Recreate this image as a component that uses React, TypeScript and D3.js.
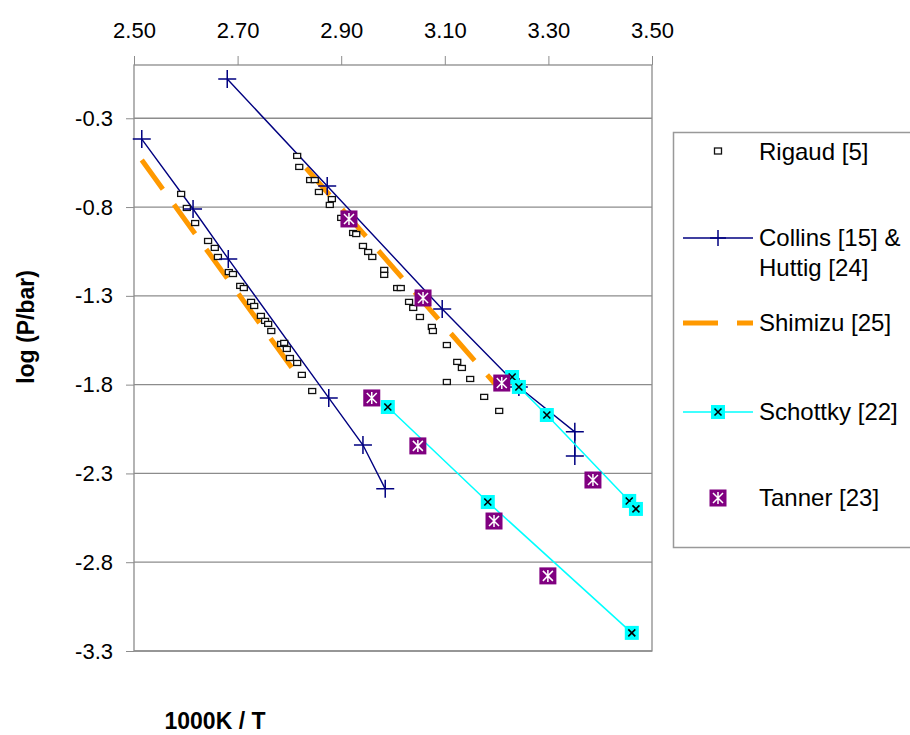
import * as d3 from 'd3';
import { useEffect, useRef } from 'react';

// x = 1000K / T , y = log (P/bar)
const rigaudLow: [number, number][] = [
  [2.591, -0.726], [2.602, -0.805], [2.618, -0.890], [2.643, -0.991], [2.656, -1.030],
  [2.662, -1.081], [2.683, -1.166], [2.691, -1.177], [2.705, -1.244], [2.712, -1.256],
  [2.726, -1.334], [2.732, -1.357], [2.745, -1.413], [2.753, -1.441], [2.759, -1.458],
  [2.765, -1.498], [2.784, -1.571], [2.790, -1.565], [2.795, -1.599], [2.801, -1.650],
  [2.815, -1.678], [2.824, -1.745], [2.844, -1.836],
];
const rigaudHigh: [number, number][] = [
  [2.815, -0.512], [2.819, -0.574], [2.840, -0.648], [2.849, -0.648], [2.857, -0.715],
  [2.882, -0.755], [2.878, -0.788], [2.900, -0.861], [2.923, -0.946], [2.929, -0.952],
  [2.942, -1.019], [2.952, -1.053], [2.960, -1.081], [2.983, -1.154], [2.983, -1.182],
  [3.008, -1.256], [3.015, -1.256], [3.031, -1.334], [3.039, -1.368], [3.052, -1.419],
  [3.075, -1.475], [3.077, -1.498], [3.104, -1.577], [3.124, -1.672], [3.133, -1.706],
  [3.104, -1.785], [3.149, -1.768], [3.176, -1.869], [3.205, -1.948],
];
const collinsLow: [number, number][] = [
  [2.515, -0.417], [2.614, -0.811], [2.682, -1.092], [2.876, -1.875], [2.942, -2.140], [2.985, -2.387],
];
const huttigHigh: [number, number][] = [
  [2.680, -0.079], [2.873, -0.681], [3.095, -1.374], [3.243, -1.813], [3.351, -2.066], [3.351, -2.202],
];
const shimizuLow: [number, number][] = [[2.515, -0.535], [2.826, -1.791]];
const shimizuHigh: [number, number][] = [[2.832, -0.580], [3.197, -1.796]];
const schottkyLow: [number, number][] = [[2.990, -1.926], [3.183, -2.461], [3.461, -3.198]];
const schottkyHigh: [number, number][] = [
  [3.230, -1.757], [3.243, -1.813], [3.297, -1.971], [3.456, -2.455], [3.469, -2.500],
];
const tanner: [number, number][] = [
  [2.915, -0.867], [3.058, -1.312], [3.210, -1.791], [2.959, -1.875],
  [3.048, -2.145], [3.386, -2.337], [3.195, -2.568], [3.299, -2.877],
];
const xTicks = [2.5, 2.7, 2.9, 3.1, 3.3, 3.5];
const yTicks = [-3.3, -2.8, -2.3, -1.8, -1.3, -0.8, -0.3];

const FONT = '"Liberation Sans", Arial, sans-serif';
const NAVY = '#000080';
const ORANGE = '#ff9900';
const CYAN = '#00ffff';
const PURPLE = '#800080';
const GRID = '#8c8c8c';

const plot = { left: 134, right: 652, top: 65, bottom: 651 };

const x = d3.scaleLinear().domain([2.5, 3.5]).range([plot.left, plot.right]);
const y = d3.scaleLinear().domain([-3.3, 0]).range([plot.bottom, plot.top]);
const line = d3.line<[number, number]>().x(d => x(d[0])).y(d => y(d[1]));

// excel style: plain hyphen, not the unicode minus d3 uses
const fmtY = (d: d3.NumberValue) => d3.format('.1f')(d).replace('\u2212', '-');

const Plus = ({ cx, cy, r = 9 }: { cx: number; cy: number; r?: number }) => (
  <path d={`M${cx - r},${cy}H${cx + r}M${cx},${cy - r}V${cy + r}`} stroke={NAVY} strokeWidth={1.5} fill="none" />
);
const Rigaud = ({ cx, cy }: { cx: number; cy: number }) => (
  <rect x={cx - 3.5} y={cy - 2.5} width={7} height={5} fill="white" stroke="#111" strokeWidth={1.3} />
);
const Schottky = ({ cx, cy }: { cx: number; cy: number }) => (
  <g>
    <rect x={cx - 7} y={cy - 7} width={14} height={14} fill={CYAN} />
    <path d={`M${cx - 3.5},${cy - 3.5}L${cx + 3.5},${cy + 3.5}M${cx + 3.5},${cy - 3.5}L${cx - 3.5},${cy + 3.5}`} stroke="#000" strokeWidth={1.6} />
  </g>
);
const Tanner = ({ cx, cy }: { cx: number; cy: number }) => (
  <g>
    <rect x={cx - 8.5} y={cy - 8.5} width={17} height={17} fill={PURPLE} />
    <path
      d={`M${cx},${cy - 6}V${cy + 6}M${cx - 5},${cy - 5}L${cx + 5},${cy + 5}M${cx + 5},${cy - 5}L${cx - 5},${cy + 5}`}
      stroke="#fff" strokeWidth={1.5} />
  </g>
);

export default function App() {
  const xAxisRef = useRef<SVGGElement>(null);
  const yAxisRef = useRef<SVGGElement>(null);

  useEffect(() => {
    const xa = d3.select(xAxisRef.current!);
    xa.call(d3.axisTop(x).tickValues(xTicks).tickFormat(d3.format('.2f')).tickSize(9).tickSizeOuter(0).tickPadding(18));
    const ya = d3.select(yAxisRef.current!);
    ya.call(d3.axisLeft(y).tickValues(yTicks).tickFormat(fmtY).tickSize(8).tickSizeOuter(0).tickPadding(13));
    [xa, ya].forEach(a => {
      a.select('.domain').remove();
      a.selectAll('line').attr('stroke', GRID);
      a.selectAll('text').attr('font-family', FONT).attr('font-size', 22).attr('fill', '#000');
    });
  }, []);

  const legendX = 718;
  const legendText = 759;

  return (
    <svg width={910} height={735} style={{ position: 'absolute', left: 0, top: 0, background: 'white' }} fontFamily={FONT}>
      <rect x={plot.left} y={plot.top} width={plot.right - plot.left} height={plot.bottom - plot.top} fill="white" stroke={GRID} strokeWidth={1.3} />
      {yTicks.map(t => (
        <line key={t} x1={plot.left} x2={plot.right} y1={y(t)} y2={y(t)} stroke={GRID} strokeWidth={1.3} />
      ))}
      <g ref={xAxisRef} transform={`translate(0,${plot.top})`} />
      <g ref={yAxisRef} transform={`translate(${plot.left},0)`} />

      {/* lines */}
      {[shimizuLow, shimizuHigh].map((s, i) => (
        <path key={'sh' + i} d={line(s)!} stroke={ORANGE} strokeWidth={5} strokeDasharray="36 19" fill="none" />
      ))}
      {[collinsLow, huttigHigh].map((s, i) => (
        <path key={'co' + i} d={line(s)!} stroke={NAVY} strokeWidth={1.4} fill="none" />
      ))}
      {[schottkyLow, schottkyHigh].map((s, i) => (
        <path key={'sc' + i} d={line(s)!} stroke={CYAN} strokeWidth={1.5} fill="none" />
      ))}

      {/* markers */}
      {[...rigaudLow, ...rigaudHigh].map((d, i) => <Rigaud key={'r' + i} cx={x(d[0])} cy={y(d[1])} />)}
      {[...collinsLow, ...huttigHigh].map((d, i) => <Plus key={'p' + i} cx={x(d[0])} cy={y(d[1])} />)}
      {[...schottkyLow, ...schottkyHigh].map((d, i) => <Schottky key={'s' + i} cx={x(d[0])} cy={y(d[1])} />)}
      {tanner.map((d, i) => <Tanner key={'t' + i} cx={x(d[0])} cy={y(d[1])} />)}

      {/* axis titles */}
      <text transform="translate(26,327) rotate(-90)" textAnchor="middle" fontWeight="bold" fontSize={23} dy="0.35em">log (P/bar)</text>
      <text x={215} y={721} textAnchor="middle" fontWeight="bold" fontSize={23} dy="0.35em">1000K / T</text>

      {/* legend */}
      <rect x={673.5} y={132.5} width={260} height={415} fill="white" stroke="#999" strokeWidth={1.5} />
      <g fontSize={24}>
        <rect x={legendX - 3.5} y={151 - 3} width={7} height={6} fill="white" stroke="#111" strokeWidth={1.3} />
        <text x={legendText} y={152} dy="0.35em">Rigaud [5]</text>

        <line x1={683} x2={753} y1={238} y2={238} stroke={NAVY} strokeWidth={1.4} />
        <Plus cx={legendX} cy={238} r={8} />
        <text x={legendText} y={238} dy="0.35em">Collins [15] &amp;</text>
        <text x={legendText} y={268} dy="0.35em">Huttig [24]</text>

        <line x1={683} x2={753} y1={323} y2={323} stroke={ORANGE} strokeWidth={5} strokeDasharray="35 19" />
        <text x={legendText} y={323} dy="0.35em">Shimizu [25]</text>

        <line x1={683} x2={753} y1={412} y2={412} stroke={CYAN} strokeWidth={1.5} />
        <Schottky cx={legendX} cy={412} />
        <text x={legendText} y={412} dy="0.35em">Schottky [22]</text>

        <Tanner cx={legendX} cy={498} />
        <text x={legendText} y={498} dy="0.35em">Tanner [23]</text>
      </g>
    </svg>
  );
}
